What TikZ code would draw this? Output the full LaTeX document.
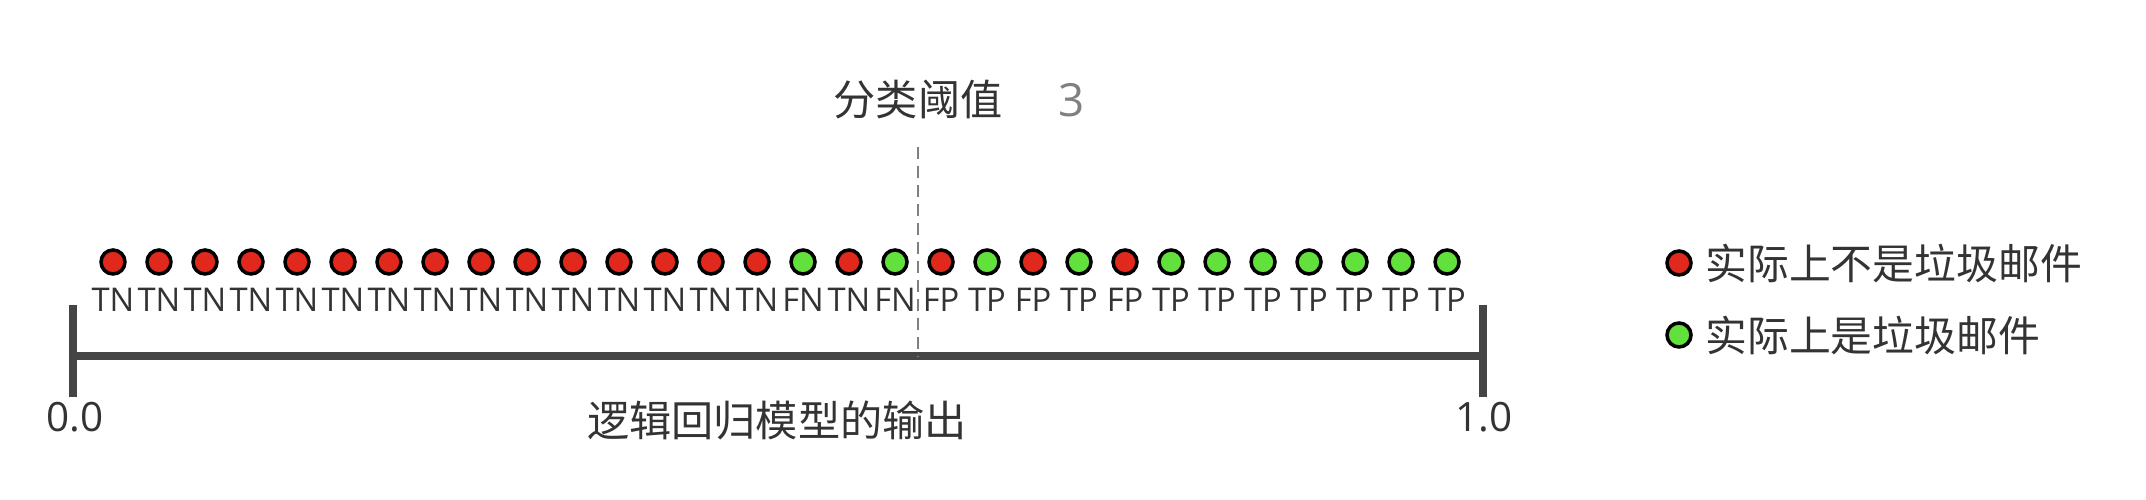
\documentclass[tikz,border=0pt]{standalone}
\usepackage{fontspec}
\setmainfont{Open Sans}
\newfontfamily\cjk{Noto Sans CJK SC}
\usetikzlibrary{positioning}
\definecolor{hamred}{HTML}{E0281C}
\definecolor{spamgreen}{HTML}{62E03C}
\definecolor{axisgray}{HTML}{454545}
\definecolor{textgray}{HTML}{333333}

\begin{document}
\begin{tikzpicture}[node distance=0.46cm]

\tikzstyle{ham}=[circle, draw=black, line width=1pt, fill=hamred, minimum size=0.24cm, inner sep=0pt]
\tikzstyle{spam}=[ham, fill=spamgreen]
\tikzstyle{lab}=[text=textgray, font=\fontsize{9.3}{10}\selectfont, inner sep=0pt, node distance=0.38cm]
\tikzstyle{title}=[text=textgray, font=\cjk\fontsize{12}{14}\selectfont, inner sep=0pt]
\tikzstyle{legend}=[text=textgray, font=\cjk\fontsize{11.9}{13}\selectfont, inner sep=0pt]
\tikzstyle{tick}=[text=textgray, font=\fontsize{11.5}{13}\selectfont, inner sep=0pt]
\tikzstyle{axisline}=[line width=2.4pt, axisgray]
\tikzstyle{threshold}=[gray, line width=0.7pt, dash pattern=on 3.4pt off 2pt]

\useasboundingbox (0,0) rectangle (21.46,5);

% sorted predictions
\node [ham] (d1) at (1.13,2.38) {};  \node [lab, below of=d1] (l1) {TN};
\node [ham, right of=d1] (d2) {};    \node [lab, below of=d2] (l2) {TN};
\node [ham, right of=d2] (d3) {};    \node [lab, below of=d3] (l3) {TN};
\node [ham, right of=d3] (d4) {};    \node [lab, below of=d4] (l4) {TN};
\node [ham, right of=d4] (d5) {};    \node [lab, below of=d5] (l5) {TN};
\node [ham, right of=d5] (d6) {};    \node [lab, below of=d6] (l6) {TN};
\node [ham, right of=d6] (d7) {};    \node [lab, below of=d7] (l7) {TN};
\node [ham, right of=d7] (d8) {};    \node [lab, below of=d8] (l8) {TN};
\node [ham, right of=d8] (d9) {};    \node [lab, below of=d9] (l9) {TN};
\node [ham, right of=d9] (d10) {};   \node [lab, below of=d10] (l10) {TN};
\node [ham, right of=d10] (d11) {};  \node [lab, below of=d11] (l11) {TN};
\node [ham, right of=d11] (d12) {};  \node [lab, below of=d12] (l12) {TN};
\node [ham, right of=d12] (d13) {};  \node [lab, below of=d13] (l13) {TN};
\node [ham, right of=d13] (d14) {};  \node [lab, below of=d14] (l14) {TN};
\node [ham, right of=d14] (d15) {};  \node [lab, below of=d15] (l15) {TN};
\node [spam, right of=d15] (d16) {}; \node [lab, below of=d16] (l16) {FN};
\node [ham, right of=d16] (d17) {};  \node [lab, below of=d17] (l17) {TN};
\node [spam, right of=d17] (d18) {}; \node [lab, below of=d18] (l18) {FN};
\node [ham, right of=d18] (d19) {};  \node [lab, below of=d19] (l19) {FP};
\node [spam, right of=d19] (d20) {}; \node [lab, below of=d20] (l20) {TP};
\node [ham, right of=d20] (d21) {};  \node [lab, below of=d21] (l21) {FP};
\node [spam, right of=d21] (d22) {}; \node [lab, below of=d22] (l22) {TP};
\node [ham, right of=d22] (d23) {};  \node [lab, below of=d23] (l23) {FP};
\node [spam, right of=d23] (d24) {}; \node [lab, below of=d24] (l24) {TP};
\node [spam, right of=d24] (d25) {}; \node [lab, below of=d25] (l25) {TP};
\node [spam, right of=d25] (d26) {}; \node [lab, below of=d26] (l26) {TP};
\node [spam, right of=d26] (d27) {}; \node [lab, below of=d27] (l27) {TP};
\node [spam, right of=d27] (d28) {}; \node [lab, below of=d28] (l28) {TP};
\node [spam, right of=d28] (d29) {}; \node [lab, below of=d29] (l29) {TP};
\node [spam, right of=d29] (d30) {}; \node [lab, below of=d30] (l30) {TP};

% axis
\coordinate (a0) at (0.73,1.44);
\coordinate (a1) at (14.83,1.44);
\draw[axisline] (a0) -- (a1);
\draw[axisline] ([yshift=0.51cm]a0) -- ([yshift=-0.41cm]a0);
\draw[axisline] ([yshift=0.51cm]a1) -- ([yshift=-0.41cm]a1);
\node [tick] (zero) at (0.75,0.83) {0.0};
\node [tick] (one) at (14.84,0.83) {1.0};
\node [title] (output) at (7.77,0.80) {逻辑回归模型的输出};

% threshold
\node [title] (thr) at (9.18,4.00) {分类阈值};
\node [tick, text=gray, font=\fontsize{13}{15}\selectfont] (thrval) at (10.72,4.00) {3};
\coordinate (thtop) at (9.18,3.53);
\coordinate (thbot) at (9.18,1.44);
\draw[threshold] (thtop) -- (thbot);

% legend
\node [ham] (kham) at (16.79,2.37) {};
\node [legend, right=0.12cm of kham] (tham) {实际上不是垃圾邮件};
\node [spam] (kspam) at (16.79,1.65) {};
\node [legend, right=0.12cm of kspam] (tspam) {实际上是垃圾邮件};

\end{tikzpicture}
\end{document}
